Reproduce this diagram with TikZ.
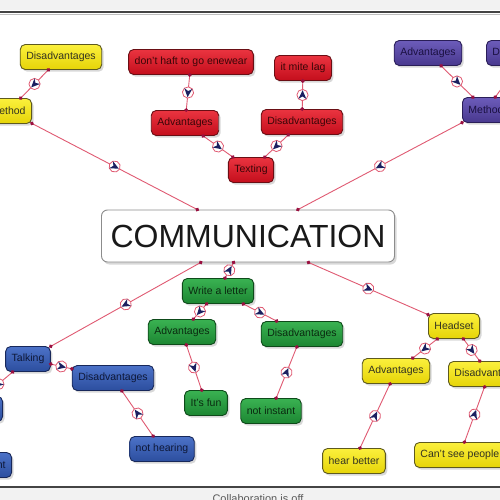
\documentclass[tikz,border=0pt]{standalone}
\usepackage{fontspec}
\setmainfont{Liberation Sans}
\usetikzlibrary{shadows,decorations.markings,calc,arrows.meta}
\definecolor{ytop}{HTML}{FBF03C}\definecolor{ybot}{HTML}{E6D408}\definecolor{ybd}{HTML}{5E5A1E}\definecolor{ytx}{HTML}{333320}
\definecolor{rtop}{HTML}{EA3440}\definecolor{rbot}{HTML}{C40E1C}\definecolor{rbd}{HTML}{6A0E14}\definecolor{rtx}{HTML}{3A0608}
\definecolor{ptop}{HTML}{6C5CBA}\definecolor{pbot}{HTML}{48388E}\definecolor{pbd}{HTML}{2A1E58}\definecolor{ptx}{HTML}{1A1040}
\definecolor{gtop}{HTML}{3AB252}\definecolor{gbot}{HTML}{1C8632}\definecolor{gbd}{HTML}{0E4A1A}\definecolor{gtx}{HTML}{0A2A10}
\definecolor{btop}{HTML}{4C72C8}\definecolor{bbot}{HTML}{2C4E9E}\definecolor{bbd}{HTML}{18285A}\definecolor{btx}{HTML}{0E1838}
\definecolor{lnk}{HTML}{E05A72}\definecolor{dotc}{HTML}{9A1040}\definecolor{navy}{HTML}{1C2060}
\definecolor{bandgray}{HTML}{F2F2F2}\definecolor{darkline}{HTML}{444444}
\tikzset{
 box/.style={rounded corners=5pt, minimum height=25pt, inner xsep=6pt, inner ysep=0pt,
   font=\fontsize{10.5}{12}\selectfont, line width=0.9pt,
   drop shadow={shadow xshift=2pt, shadow yshift=-2.2pt, opacity=0.3}},
 yel/.style={box, draw=ybd, top color=ytop, bottom color=ybot, text=ytx},
 red/.style={box, draw=rbd, top color=rtop, bottom color=rbot, text=rtx},
 pur/.style={box, draw=pbd, top color=ptop, bottom color=pbot, text=ptx},
 grn/.style={box, draw=gbd, top color=gtop, bottom color=gbot, text=gtx},
 blu/.style={box, draw=bbd, top color=btop, bottom color=bbot, text=btx},
 conn/.style={draw=lnk, line width=0.9pt,
   {Circle[length=3.8pt,color=dotc]}-{Circle[length=3.8pt,color=dotc]},
   shorten <=-1.9pt, shorten >=-1.9pt,
   postaction={decorate, decoration={markings, mark=at position 0.5 with {
     \filldraw[fill=white, draw=lnk, line width=0.8pt] (0pt,0pt) circle (5.6pt);
     \fill[navy] (4.8pt,0pt) -- (-4pt,4pt) -- (-1.4pt,0pt) -- (-4pt,-4pt) -- cycle;}}}}
}
\begin{document}
\begin{tikzpicture}[x=1pt,y=-1pt]
\useasboundingbox (0,0) rectangle (500,500);
\clip (0,0) rectangle (500,500);
\fill[white] (0,0) rectangle (500,500);
% bands
\fill[bandgray] (0,0) rectangle (500,10.5);
\draw[line width=2pt, darkline] (0,12) -- (500,12);
\draw[line width=0.6pt, black!25] (0,14) -- (500,14);
\fill[bandgray] (0,488) rectangle (500,500);
\draw[line width=1.6pt, darkline] (0,487) -- (500,487);
\node[anchor=north, font=\fontsize{11}{13}\selectfont, text=black!65, inner sep=0pt] (footer) at (258,494.5) {Collaboration is off};
% nodes
\node[yel] (yd) at (61,57) {Disadvantages};
\node[yel, anchor=east] (ym) at (32,111) {Method};
\node[red] (rhaft) at (191,62) {don't haft to go enewear};
\node[red] (radv) at (185,123) {Advantages};
\node[red] (text) at (251,170) {Texting};
\node[red] (rlag) at (303,68) {it mite lag};
\node[red] (rdis) at (302,122) {Disadvantages};
\node[pur] (padv) at (428,53) {Advantages};
\node[pur, anchor=west] (pdis) at (486,53) {Disadvantages};
\node[pur, anchor=west] (pmeth) at (462,110) {Method};
\node[draw=black!45, fill=white, rounded corners=6pt, line width=0.9pt, minimum width=293pt, minimum height=52pt, inner sep=0pt,
  font=\fontsize{32}{36}\selectfont, text=black!90,
  drop shadow={shadow xshift=2pt, shadow yshift=-2.5pt, opacity=0.3}] (comm) at (248,236) {COMMUNICATION};
\node[grn] (write) at (218,291) {Write a letter};
\node[grn] (gadv) at (182,332) {Advantages};
\node[grn] (fun) at (206,403) {It's fun};
\node[grn] (gdis) at (302,334) {Disadvantages};
\node[grn] (ninst) at (271,411) {not instant};
\node[blu] (talk) at (28,359) {Talking};
\node[blu] (bdis) at (113,378) {Disadvantages};
\node[blu] (nhear) at (162,449) {not hearing};
\node[blu, anchor=east] (badv) at (3,409) {Advantages};
\node[blu, anchor=east] (binst) at (12,465) {instant};
\node[yel] (head) at (454,326) {Headset};
\node[yel] (yadv) at (396,371) {Advantages};
\node[yel, anchor=west] (ydis) at (448,374) {Disadvantages};
\node[yel] (hear) at (354,461) {hear better};
\node[yel, anchor=west] (cant) at (414,455) {Can't see people};
% connectors
\draw[conn] (yd) -- (ym);
\draw[conn] (ym) -- (comm);
\draw[conn] (rhaft) -- (radv);
\draw[conn] (radv) -- (text);
\draw[conn] (rdis) -- (text);
\draw[conn] (rdis) -- (rlag);
\draw[conn] (padv) -- (pmeth);
\draw[conn] (pmeth) -- (comm);
\draw[conn] (pmeth) -- (pdis);
\draw[conn] (comm) -- (talk);
\draw[conn] (write) -- (comm);
\draw[conn] (write) -- (gadv);
\draw[conn] (gadv) -- (fun);
\draw[conn] (write) -- (gdis);
\draw[conn] (ninst) -- (gdis);
\draw[conn] (comm) -- (head);
\draw[conn] (head) -- (yadv);
\draw[conn] (head) -- (ydis);
\draw[conn] (hear) -- (yadv);
\draw[conn] (cant) -- (ydis);
\draw[conn] (talk) -- (bdis);
\draw[conn] (nhear) -- (bdis);
\draw[conn] (talk) -- (badv);
\end{tikzpicture}
\end{document}
